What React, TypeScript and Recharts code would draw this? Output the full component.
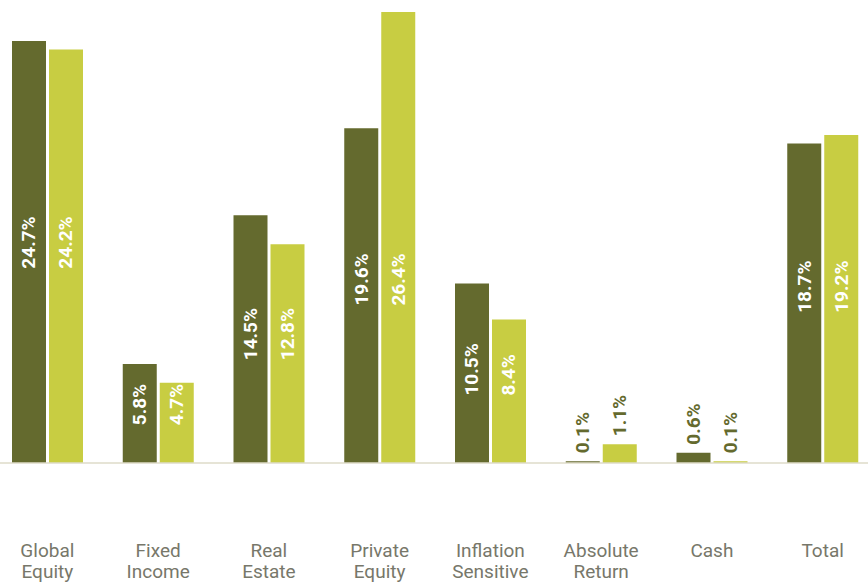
import React from "react";
import { BarChart, Bar, XAxis, YAxis, LabelList } from "recharts";

const categories = ["Global Equity", "Fixed Income", "Real Estate", "Private Equity", "Inflation Sensitive", "Absolute Return", "Cash", "Total"];
const categoryLines = [["Global", "Equity"], ["Fixed", "Income"], ["Real", "Estate"], ["Private", "Equity"], ["Inflation", "Sensitive"], ["Absolute", "Return"], ["Cash"], ["Total"]];
const seriesA = [24.7, 5.8, 14.5, 19.6, 10.5, 0.1, 0.6, 18.7];
const seriesB = [24.2, 4.7, 12.8, 26.4, 8.4, 1.1, 0.1, 19.2];

const DARK = "#646a2e";
const LIGHT = "#c8cd42";
const FONT = "Roboto, 'DejaVu Sans Condensed', sans-serif";

const data = categories.map((c, i) => ({ name: c, idx: i, a: seriesA[i], b: seriesB[i] }));

const makeLabel = () => (props: any) => {
  const { x, y, width, height, value, index } = props;
  const v = Number(value);
  const cx = x + width / 2;
  const minV = Math.min(seriesA[index], seriesB[index]);
  let by: number;
  let fill: string;
  if (v < 2) {
    by = y - 8;
    fill = DARK;
  } else {
    const baseY = y + height;
    const minH = (height * minV) / v;
    by = baseY - minH * 0.47;
    fill = "#ffffff";
  }
  return (
    <text x={cx} y={by} transform={`rotate(-90, ${cx}, ${by})`} textAnchor="start" dominantBaseline="central" fill={fill} fontFamily={FONT} fontWeight="bold" fontSize={19}>
      {v.toFixed(1)}%
    </text>
  );
};

const Tick = (props: any) => {
  const { x, y, payload } = props;
  const lines = categoryLines[payload.index] || [String(payload.value)];
  return (
    <g>
      {lines.map((l, i) => (
        <text key={i} x={x} y={y + 94 + i * 21} textAnchor="middle" fill="#77776a" fontFamily={FONT} fontSize={19}>
          {l}
        </text>
      ))}
    </g>
  );
};

export default function App() {
  return (
    <div style={{ position: "absolute", left: 0, top: 0, width: 868, height: 588, overflow: "hidden", background: "#fff" }}>
      <div style={{ position: "absolute", left: -8, top: 0 }}>
        <BarChart width={886} height={588} data={data} margin={{ top: 0, right: 0, bottom: 0, left: 0 }} barSize={34} barGap={3}>
          <XAxis dataKey="name" axisLine={{ stroke: "#dedbc8", strokeWidth: 1.5 }} tickLine={false} tickSize={0} tickMargin={0} height={125} interval={0} tick={<Tick />} />
          <YAxis hide domain={[0, 27.1]} />
          <Bar dataKey="a" fill={DARK} isAnimationActive={false}>
            <LabelList dataKey="a" content={makeLabel()} />
          </Bar>
          <Bar dataKey="b" fill={LIGHT} isAnimationActive={false}>
            <LabelList dataKey="b" content={makeLabel()} />
          </Bar>
        </BarChart>
      </div>
    </div>
  );
}
